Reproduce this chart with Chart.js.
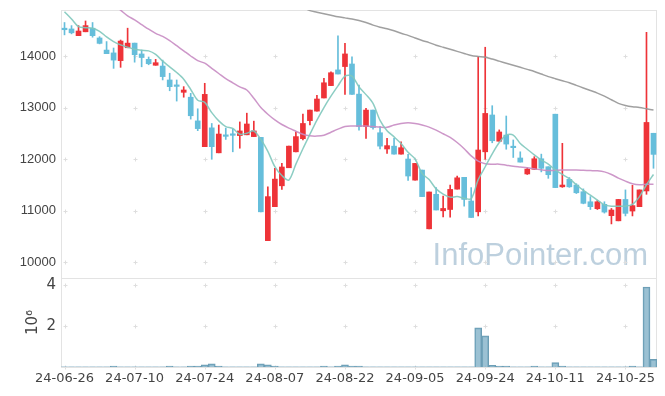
<!DOCTYPE html>
<html>
<head>
<meta charset="utf-8">
<script src="https://cdn.jsdelivr.net/npm/chart.js@4/dist/chart.umd.min.js"></script>
<style>
  html, body { margin: 0; padding: 0; background: #fff; }
  #wrap { width: 665px; height: 396px; }
</style>
</head>
<body>
<div id="wrap"><canvas id="stockChart" width="665" height="396"></canvas></div>
<script>
// trading days
const dates = [
  '24-06-26','24-06-27','24-06-28','24-07-01','24-07-02','24-07-03','24-07-04','24-07-05','24-07-08','24-07-09',
  '24-07-10','24-07-11','24-07-12','24-07-15','24-07-16','24-07-17','24-07-18','24-07-19','24-07-22','24-07-23',
  '24-07-24','24-07-25','24-07-26','24-07-29','24-07-30','24-07-31','24-08-01','24-08-02','24-08-05','24-08-06',
  '24-08-07','24-08-08','24-08-09','24-08-12','24-08-13','24-08-14','24-08-16','24-08-19','24-08-20','24-08-21',
  '24-08-22','24-08-23','24-08-26','24-08-27','24-08-28','24-08-29','24-08-30','24-09-02','24-09-03','24-09-04',
  '24-09-05','24-09-06','24-09-09','24-09-10','24-09-11','24-09-12','24-09-13','24-09-19','24-09-20','24-09-23',
  '24-09-24','24-09-25','24-09-26','24-09-27','24-09-30','24-10-02','24-10-04','24-10-07','24-10-08','24-10-10',
  '24-10-11','24-10-14','24-10-15','24-10-16','24-10-17','24-10-18','24-10-21','24-10-22','24-10-23','24-10-24',
  '24-10-25','24-10-28','24-10-29','24-10-30','24-10-31'
];

const priceTicks = [10000, 11000, 12000, 13000, 14000];
const volumeTicks = [0, 2000000, 4000000];

const openP = [
  14540,14525,14395,14470,14540,14350,14115,14060,13910,14160,
  14250,14040,13935,13820,13805,13535,13420,13295,13200,12740,
  12240,12605,12120,12460,12475,12455,12470,12435,12420,10415,
  11075,11480,11830,12140,12395,12745,12930,13185,13425,13730,
  13795,13845,13260,12630,12950,12510,12195,12250,12095,12000,
  11590,11785,10645,11315,10995,11020,11415,11645,11185,10975,
  12140,12855,12345,12465,12230,12020,11710,11800,12005,11850,
  12870,11460,11605,11495,11365,11170,11035,11120,10900,10800,
  11215,10990,11075,11380,12500
];
const highP = [
  14650,14590,14590,14680,14650,14375,14280,14155,14310,14540,
  14250,14115,13980,13935,13920,13665,13535,13405,13275,12975,
  13470,12690,12660,12600,12580,12720,12890,12735,12420,11460,
  11820,11915,12250,12530,12870,12950,13235,13565,13695,14390,
  14245,13985,13435,12985,12950,12630,12400,12400,12335,12090,
  11915,11785,11360,11445,11280,11495,11670,11645,11445,13985,
  14170,13035,12565,12835,12370,12140,11830,12045,12095,11850,
  12870,12305,11640,11520,11420,11270,11200,11170,11040,11215,
  11400,11490,11400,14460,12500
];
const lowP = [
  14410,14430,14395,14470,14365,14235,14045,13760,13780,14160,
  13880,13790,13830,13820,13535,13325,13125,13200,12775,12550,
  12240,11995,12120,12380,12140,12210,12470,12435,10975,10415,
  11075,11410,11830,12140,12370,12660,12930,13185,13425,13650,
  13255,13255,12560,12400,12580,12195,12110,12095,12095,11585,
  11590,11270,10645,11010,10875,10870,11415,11085,10865,10895,
  11995,12315,12345,12190,12030,11940,11700,11800,11750,11625,
  11445,11450,11450,11330,11130,11020,11020,10950,10740,10800,
  10895,10895,11075,11315,11820
];
const closeP = [
  14510,14450,14485,14590,14395,14245,14045,13920,14290,14250,
  14025,13970,13850,13870,13600,13405,13410,13340,12840,12590,
  13255,12240,12485,12440,12460,12545,12680,12545,10975,11270,
  11610,11845,12250,12435,12690,12950,13165,13480,13675,13650,
  14040,13255,12630,12950,12610,12250,12260,12095,12220,11670,
  11915,11270,11360,11010,11040,11410,11635,11215,10865,12175,
  12885,12355,12525,12290,12220,11940,11805,12005,11820,11695,
  11445,11495,11460,11345,11140,11075,11170,10970,11010,11215,
  10945,11095,11400,12710,12090
];

// moving average lines
const ma5 = [
  14860,14720,14570,14550,14540,14480,14370,14280,14215,14170,
  14130,14110,14100,14030,13900,13790,13680,13550,13350,13140,
  13100,12900,12740,12630,12595,12480,12500,12545,12380,12150,
  11850,11680,11590,11900,12200,12480,12755,13000,13220,13420,
  13610,13610,13400,13250,13080,12750,12550,12430,12300,12130,
  12000,11720,11600,11420,11320,11260,11270,11240,11230,11600,
  11850,12100,12320,12465,12465,12300,12190,12080,11980,11900,
  11790,11700,11620,11500,11390,11300,11200,11110,11085,11085,
  11085,11120,11270,11500,11700
];
const ma20 = [
  null,null,null,null,null,null,null,15000,14890,14780,
  14700,14610,14520,14440,14380,14300,14200,14100,14000,13910,
  13860,13760,13660,13560,13480,13400,13340,13180,13000,12870,
  12760,12670,12600,12540,12480,12450,12445,12460,12520,12580,
  12630,12640,12640,12640,12630,12620,12615,12660,12690,12705,
  12690,12660,12620,12560,12490,12420,12320,12200,12060,11960,
  11910,11900,11900,11880,11860,11845,11830,11810,11790,11775,
  11780,11785,11785,11785,11780,11775,11770,11750,11700,11630,
  11570,11520,11500,11510,11510
];
const ma60 = [
  null,null,null,null,null,null,null,null,null,null,
  null,null,null,null,null,null,null,null,null,null,
  null,null,null,null,null,null,null,null,null,null,
  null,null,null,null,14950,14880,14850,14820,14790,14760,
  14740,14720,14690,14650,14600,14560,14530,14490,14440,14400,
  14350,14300,14260,14210,14170,14130,14090,14050,14010,13990,
  13975,13940,13900,13860,13820,13780,13740,13700,13650,13600,
  13560,13520,13480,13430,13380,13330,13280,13220,13150,13080,
  13040,13015,13000,12975,12950
];

const volume = [
  10000,10000,10000,10000,10000,10000,10000,50000,10000,10000,
  10000,10000,10000,10000,10000,50000,10000,10000,50000,50000,
  100000,150000,50000,10000,10000,10000,10000,10000,150000,100000,
  50000,10000,10000,10000,10000,10000,10000,50000,10000,50000,
  100000,50000,50000,10000,10000,10000,10000,10000,10000,10000,
  10000,10000,10000,10000,10000,10000,10000,10000,10000,1910000,
  1520000,80000,50000,50000,10000,10000,10000,50000,10000,10000,
  210000,50000,10000,10000,10000,10000,10000,10000,10000,10000,
  10000,50000,10000,3900000,370000
];

const upColor = '#ee3338';
const downColor = '#66bedb';
const candleColors = openP.map((o, i) => closeP[i] >= o ? upColor : downColor);

// light crosses instead of grid lines, panel frames and the watermark
const panelDeco = {
  id: 'panelDeco',
  beforeDatasetsDraw(chart) {
    const { ctx, chartArea, scales } = chart;
    const xs = scales.x;
    ctx.save();
    ctx.font = '31px "Liberation Sans", Arial, sans-serif';
    ctx.fillStyle = 'rgba(178,200,216,0.85)';
    ctx.textAlign = 'right';
    ctx.textBaseline = 'alphabetic';
    ctx.fillText('InfoPointer.com', chartArea.right - 9, scales.y.bottom - 13);

    ctx.lineWidth = 1;
    [scales.y, scales.vol].forEach(s => {
      ctx.strokeStyle = '#dedede';
      s.ticks.forEach(t => {
        const py = Math.round(s.getPixelForValue(t.value)) + 0.5;
        for (let i = 0; i < dates.length; i += 10) {
          const px = Math.round(xs.getPixelForValue(i)) + 0.5;
          ctx.beginPath();
          ctx.moveTo(px - 2, py);
          ctx.lineTo(px + 2, py);
          ctx.moveTo(px, py - 2);
          ctx.lineTo(px, py + 2);
          ctx.stroke();
        }
      });
      ctx.strokeStyle = '#e3e3e3';
      ctx.strokeRect(Math.round(chartArea.left) + 0.5, Math.round(s.top) + 0.5,
        Math.round(chartArea.right - chartArea.left) - 1, Math.round(s.bottom - s.top));
    });
    ctx.restore();
  }
};

function noPadding(scale) {
  scale.paddingTop = 0;
  scale.paddingBottom = 0;
  scale.paddingLeft = 0;
  scale.paddingRight = 0;
}

const lineDefaults = {
  type: 'line',
  yAxisID: 'y',
  pointRadius: 0,
  borderWidth: 1.5,
  tension: 0.3,
  fill: false,
  spanGaps: false,
  order: 0
};

new Chart(document.getElementById('stockChart'), {
  type: 'bar',
  data: {
    labels: dates,
    datasets: [
      Object.assign({}, lineDefaults, { label: 'MA5', data: ma5, borderColor: 'rgba(128,200,188,0.9)' }),
      Object.assign({}, lineDefaults, { label: 'MA20', data: ma20, borderColor: 'rgba(200,140,195,0.9)' }),
      Object.assign({}, lineDefaults, { label: 'MA60', data: ma60, borderColor: 'rgba(150,150,150,0.9)' }),
      {
        label: 'wick',
        yAxisID: 'y',
        data: lowP.map((l, i) => [l, highP[i]]),
        backgroundColor: candleColors,
        barThickness: 1,
        grouped: false,
        order: 2
      },
      {
        label: 'body',
        yAxisID: 'y',
        data: openP.map((o, i) => [o, closeP[i]]),
        backgroundColor: candleColors,
        barThickness: 5,
        minBarLength: 1.5,
        grouped: false,
        order: 1
      },
      {
        label: 'volume',
        yAxisID: 'vol',
        data: volume,
        backgroundColor: 'rgba(122,172,196,0.75)',
        borderColor: '#6c9db4',
        borderWidth: 1,
        barPercentage: 1,
        categoryPercentage: 1,
        grouped: false,
        order: 3
      }
    ]
  },
  options: {
    responsive: false,
    animation: false,
    devicePixelRatio: 1,
    layout: { padding: { top: 10, right: 8, left: 0, bottom: 0 } },
    plugins: {
      legend: { display: false },
      tooltip: { enabled: false }
    },
    scales: {
      x: {
        type: 'category',
        grid: { display: false, drawTicks: false },
        border: { display: false },
        ticks: {
          autoSkip: false,
          maxRotation: 0,
          padding: 4,
          color: '#444',
          font: { family: 'DejaVu Sans', size: 13 },
          callback: function(value, index) {
            return index % 10 === 0 ? dates[index] : '';
          }
        },
        afterFit: function(scale) { scale.height = 29; noPadding(scale); }
      },
      vol: {
        type: 'linear',
        position: 'left',
        stack: 'panel',
        stackWeight: 89,
        min: 0,
        max: 4340000,
        grid: { display: false, drawTicks: false },
        border: { display: false },
        title: {
          display: true,
          text: '10\u2076',
          color: '#444',
          font: { family: 'DejaVu Sans', size: 15 },
          padding: { top: 24, bottom: 0 }
        },
        afterBuildTicks: function(scale) {
          scale.ticks = volumeTicks.map(v => ({ value: v }));
        },
        ticks: {
          padding: 5,
          color: '#444',
          font: { family: 'DejaVu Sans', size: 15 },
          callback: function(value) {
            return value === 0 ? '' : String(value / 1000000);
          }
        },
        afterFit: function(scale) { scale.width = 61; noPadding(scale); }
      },
      y: {
        type: 'linear',
        position: 'left',
        stack: 'panel',
        stackWeight: 268,
        min: 9690,
        max: 14893,
        grid: { display: false, drawTicks: false },
        border: { display: false },
        afterBuildTicks: function(scale) {
          scale.ticks = priceTicks.map(v => ({ value: v }));
        },
        ticks: {
          padding: 5,
          color: '#444',
          font: { family: 'Liberation Sans', size: 13 },
          callback: function(value) { return String(value); }
        },
        afterFit: function(scale) { scale.width = 61; noPadding(scale); }
      }
    }
  },
  plugins: [panelDeco]
});
</script>
</body>
</html>
